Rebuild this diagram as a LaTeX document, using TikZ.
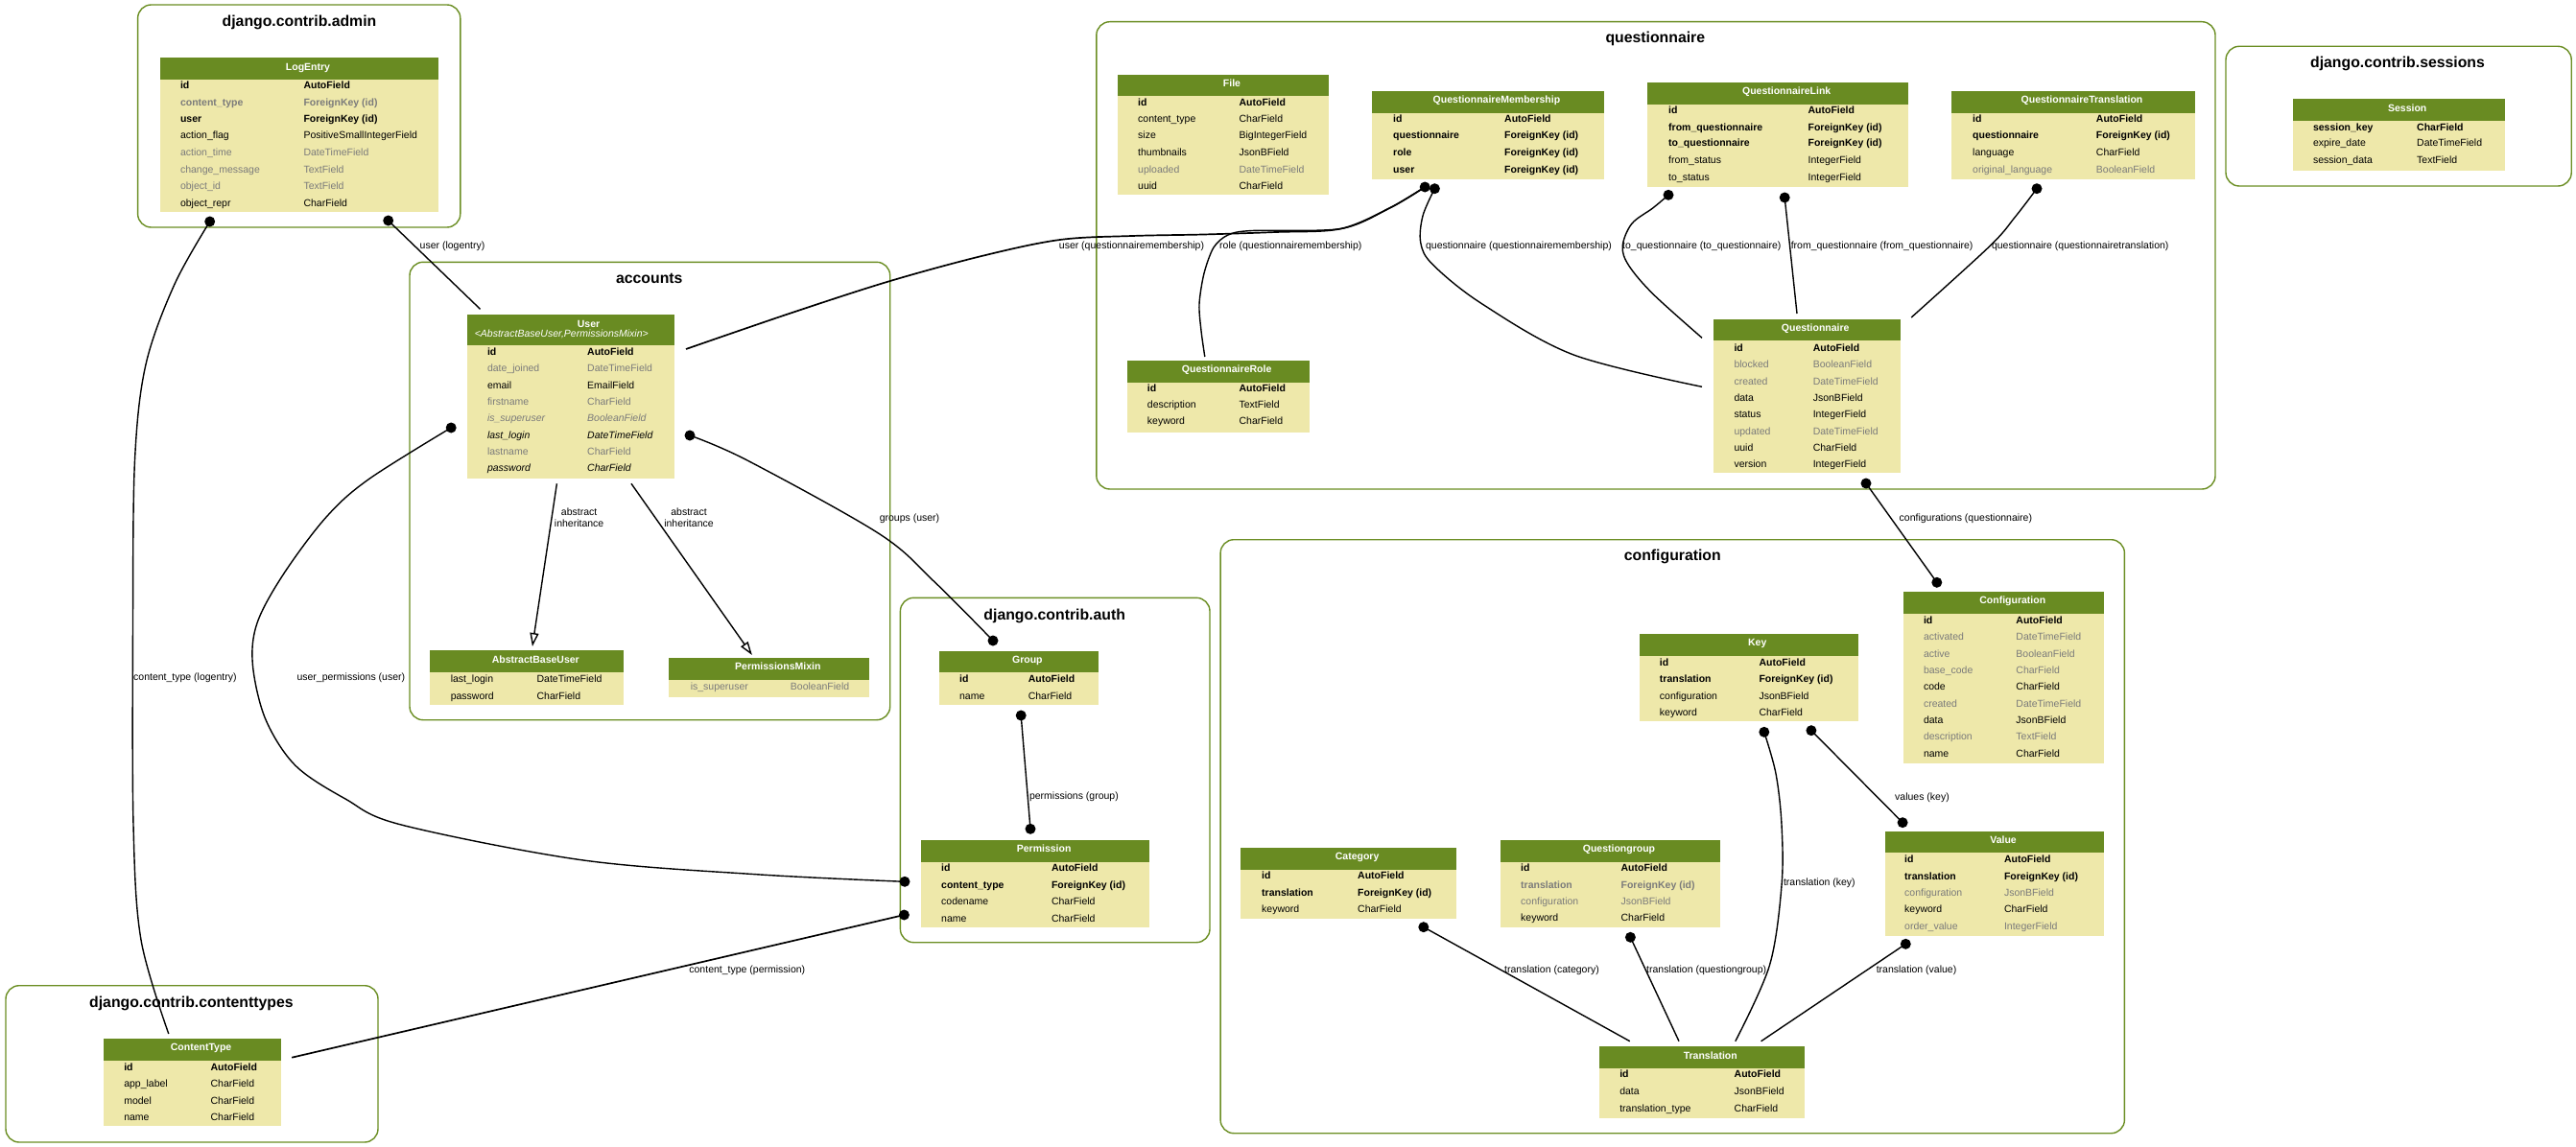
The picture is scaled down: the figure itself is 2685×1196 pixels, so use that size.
\documentclass[tikz,border=0pt]{standalone}
\usepackage{fontspec}
\setmainfont{Liberation Sans}
\usetikzlibrary{arrows.meta}
\definecolor{hdcol}{HTML}{698B22}
\definecolor{bdcol}{HTML}{EEE8AA}
\definecolor{grcol}{HTML}{7B7B7B}
\definecolor{clcol}{HTML}{6B8E23}
\newcounter{rowc}
\tikzset{
  clusbox/.style={draw=clcol, line width=1.4pt, rounded corners=14pt, inner sep=0pt, outer sep=0pt},
  ctitle/.style={font=\fontsize{15.8}{18}\selectfont\bfseries, inner sep=0pt},
  tabbody/.style={fill=bdcol, inner sep=0pt, outer sep=0pt},
  tabhead/.style={fill=hdcol, inner sep=0pt, outer sep=0pt, minimum height=22.7pt},
  htext/.style={text=white, font=\fontsize{10.5}{12}\selectfont\bfseries, inner sep=0pt},
  fn/.style={font=\fontsize{10.5}{12}\selectfont, inner sep=0pt, anchor=base west},
  fb/.style={fn, font=\fontsize{10.5}{12}\selectfont\bfseries},
  fi/.style={fn, font=\fontsize{10.5}{12}\selectfont\itshape},
  fg/.style={fn, text=grcol},
  fgb/.style={fb, text=grcol},
  fgi/.style={fi, text=grcol},
  elab/.style={font=\fontsize{10.5}{12}\selectfont, inner sep=0pt, anchor=base west},
  elabc/.style={font=\fontsize{10.5}{12}\selectfont, inner sep=0pt, anchor=base},
  rel/.style={draw=black, line width=1.4pt},
  relthick/.style={draw=black, line width=1.7pt},
  inh/.style={draw=black, line width=1.4pt, -{Triangle[open, length=14pt, width=9pt]}},
}
\newcommand\clus[8]{%
  \node[clusbox, minimum width={(#4-#2)*1pt}, minimum height={(#5-#3)*1pt}, anchor=north west] (#1) at (#2,#3) {};
  \node[ctitle, anchor=base] (#1-title) at (#7,{#8+5}) {#6};}
\newcommand\tab[6]{%
  \node[tabbody, minimum width={(#4-#2)*1pt}, minimum height={(#5-#3)*1pt}, anchor=north west] (#1) at (#2,#3) {};
  \node[tabhead, minimum width={(#4-#2)*1pt}, anchor=north west] (#1-head) at (#2,#3) {};
  \node[htext, anchor=base] (#1-title) at ({(#2+#4)/2+9},{#3+12.8}) {#6};}
\newcommand\frow[6]{\stepcounter{rowc}%
  \node[#1] (f\arabic{rowc}n) at (#2,{#4+3.7}) {#5};
  \node[#1] (f\arabic{rowc}t) at (#3,{#4+3.7}) {#6};}
\newcommand\dotat[1]{\fill[black] (#1) circle (5.5pt);}
\begin{document}
\begin{tikzpicture}[x=1pt,y=-1pt]
\useasboundingbox (0,0) rectangle (2685,1196);
\fill[white] (0,0) rectangle (2685,1196);

% ---------------- clusters
\clus{cadmin}{143.6}{5}{479.8}{237}{django.contrib.admin}{312}{22.7}
\clus{caccounts}{427}{273.3}{927.7}{750.7}{accounts}{676.8}{290.7}
\clus{cquest}{1142.8}{22.7}{2309}{510}{questionnaire}{1725.3}{39.3}
\clus{csess}{2320}{48.3}{2680.2}{194}{django.contrib.sessions}{2499}{65.7}
\clus{cauth}{938.4}{623.3}{1261}{982.7}{django.contrib.auth}{1099.2}{641}
\clus{cctypes}{6}{1027.7}{394}{1191}{django.contrib.contenttypes}{199.4}{1045.7}
\clus{cconf}{1272.1}{562.7}{2214.4}{1181.7}{configuration}{1743.3}{579.3}

% ---------------- LogEntry
\tab{logentry}{166.6}{60.3}{457.4}{221}{LogEntry}
\frow{fb}{187.8}{316.3}{89.3}{id}{AutoField}
\frow{fgb}{187.8}{316.3}{107.3}{content\_type}{ForeignKey (id)}
\frow{fb}{187.8}{316.3}{124.3}{user}{ForeignKey (id)}
\frow{fn}{187.8}{316.3}{141.3}{action\_flag}{PositiveSmallIntegerField}
\frow{fg}{187.8}{316.3}{159.3}{action\_time}{DateTimeField}
\frow{fg}{187.8}{316.3}{176.3}{change\_message}{TextField}
\frow{fg}{187.8}{316.3}{193.3}{object\_id}{TextField}
\frow{fn}{187.8}{316.3}{211.3}{object\_repr}{CharField}

% ---------------- User
\node[tabbody, minimum width=216.9pt, minimum height=171pt, anchor=north west] (user) at (486.5,328) {};
\node[tabhead, minimum width=216.9pt, minimum height=32pt, anchor=north west] (user-head) at (486.5,328) {};
\node[htext, anchor=base] (user-title) at (613.5,341) {User};
\node[htext, anchor=base, font=\fontsize{10.5}{12}\selectfont\itshape] (user-sub) at (585.3,351.4) {<AbstractBaseUser,PermissionsMixin>};
\frow{fb}{507.8}{612}{366.3}{id}{AutoField}
\frow{fg}{507.8}{612}{383.3}{date\_joined}{DateTimeField}
\frow{fn}{507.8}{612}{401.3}{email}{EmailField}
\frow{fg}{507.8}{612}{418.3}{firstname}{CharField}
\frow{fgi}{507.8}{612}{435.3}{is\_superuser}{BooleanField}
\frow{fi}{507.8}{612}{453.3}{last\_login}{DateTimeField}
\frow{fg}{507.8}{612}{470.3}{lastname}{CharField}
\frow{fi}{507.8}{612}{487.3}{password}{CharField}

% ---------------- AbstractBaseUser / PermissionsMixin
\tab{abu}{448.2}{678.3}{650.4}{735}{AbstractBaseUser}
\frow{fn}{469.6}{559.4}{707.3}{last\_login}{DateTimeField}
\frow{fn}{469.6}{559.4}{725.3}{password}{CharField}
\tab{pmix}{697.3}{686}{906.3}{726.7}{PermissionsMixin}
\frow{fg}{719.6}{823.7}{715.3}{is\_superuser}{BooleanField}

% ---------------- Group / Permission
\tab{group}{978.6}{678.7}{1145.1}{735}{Group}
\frow{fb}{999.9}{1071.6}{707.3}{id}{AutoField}
\frow{fn}{999.9}{1071.6}{725.3}{name}{CharField}
\tab{perm}{960.3}{876}{1198}{966.7}{Permission}
\frow{fb}{981}{1095.8}{905}{id}{AutoField}
\frow{fb}{981}{1095.8}{922.3}{content\_type}{ForeignKey (id)}
\frow{fn}{981}{1095.8}{939.3}{codename}{CharField}
\frow{fn}{981}{1095.8}{957.3}{name}{CharField}

% ---------------- ContentType
\tab{ctype}{107.9}{1083}{293.3}{1174.3}{ContentType}
\frow{fb}{129.1}{219.4}{1112.3}{id}{AutoField}
\frow{fn}{129.1}{219.4}{1129.3}{app\_label}{CharField}
\frow{fn}{129.1}{219.4}{1147.3}{model}{CharField}
\frow{fn}{129.1}{219.4}{1164.3}{name}{CharField}

% ---------------- questionnaire app
\tab{file}{1165}{77.7}{1385}{203.3}{File}
\frow{fb}{1186}{1291.4}{107.3}{id}{AutoField}
\frow{fn}{1186}{1291.4}{124.3}{content\_type}{CharField}
\frow{fn}{1186}{1291.4}{141.3}{size}{BigIntegerField}
\frow{fn}{1186}{1291.4}{159.3}{thumbnails}{JsonBField}
\frow{fg}{1186}{1291.4}{176.3}{uploaded}{DateTimeField}
\frow{fn}{1186}{1291.4}{193.3}{uuid}{CharField}

\tab{qmem}{1430.4}{95}{1671.5}{186.7}{QuestionnaireMembership}
\frow{fb}{1452}{1568}{124.3}{id}{AutoField}
\frow{fb}{1452}{1568}{141.3}{questionnaire}{ForeignKey (id)}
\frow{fb}{1452}{1568}{159.3}{role}{ForeignKey (id)}
\frow{fb}{1452}{1568}{176.3}{user}{ForeignKey (id)}

\tab{qlink}{1717.4}{86}{1989}{195}{QuestionnaireLink}
\frow{fb}{1739}{1884.4}{115.3}{id}{AutoField}
\frow{fb}{1739}{1884.4}{132.3}{from\_questionnaire}{ForeignKey (id)}
\frow{fb}{1739}{1884.4}{149.3}{to\_questionnaire}{ForeignKey (id)}
\frow{fn}{1739}{1884.4}{167.3}{from\_status}{IntegerField}
\frow{fn}{1739}{1884.4}{184.3}{to\_status}{IntegerField}

\tab{qtrans}{2034.3}{95}{2287.7}{186.7}{QuestionnaireTranslation}
\frow{fb}{2056}{2184.7}{124.3}{id}{AutoField}
\frow{fb}{2056}{2184.7}{141.3}{questionnaire}{ForeignKey (id)}
\frow{fn}{2056}{2184.7}{159.3}{language}{CharField}
\frow{fg}{2056}{2184.7}{176.3}{original\_language}{BooleanField}

\tab{qrole}{1174.6}{376}{1364.7}{450.7}{QuestionnaireRole}
\frow{fb}{1195.7}{1291.4}{405}{id}{AutoField}
\frow{fn}{1195.7}{1291.4}{422}{description}{TextField}
\frow{fn}{1195.7}{1291.4}{439}{keyword}{CharField}

\tab{quest}{1785.6}{332.7}{1980.8}{493.3}{Questionnaire}
\frow{fb}{1807.3}{1889.6}{362.3}{id}{AutoField}
\frow{fg}{1807.3}{1889.6}{379.3}{blocked}{BooleanField}
\frow{fg}{1807.3}{1889.6}{397.3}{created}{DateTimeField}
\frow{fn}{1807.3}{1889.6}{414.3}{data}{JsonBField}
\frow{fn}{1807.3}{1889.6}{431.3}{status}{IntegerField}
\frow{fg}{1807.3}{1889.6}{449.3}{updated}{DateTimeField}
\frow{fn}{1807.3}{1889.6}{466.3}{uuid}{CharField}
\frow{fn}{1807.3}{1889.6}{483.3}{version}{IntegerField}

% ---------------- sessions
\tab{session}{2389.6}{103.3}{2610.8}{177.7}{Session}
\frow{fb}{2410.8}{2519}{132.3}{session\_key}{CharField}
\frow{fn}{2410.8}{2519}{149.3}{expire\_date}{DateTimeField}
\frow{fn}{2410.8}{2519}{167.3}{session\_data}{TextField}

% ---------------- configuration app
\tab{config}{1984.2}{617}{2193.3}{795.7}{Configuration}
\frow{fb}{2004.8}{2101.2}{646.3}{id}{AutoField}
\frow{fg}{2004.8}{2101.2}{663.3}{activated}{DateTimeField}
\frow{fg}{2004.8}{2101.2}{681.3}{active}{BooleanField}
\frow{fg}{2004.8}{2101.2}{698.3}{base\_code}{CharField}
\frow{fn}{2004.8}{2101.2}{715.3}{code}{CharField}
\frow{fg}{2004.8}{2101.2}{733.3}{created}{DateTimeField}
\frow{fn}{2004.8}{2101.2}{750.3}{data}{JsonBField}
\frow{fg}{2004.8}{2101.2}{767.3}{description}{TextField}
\frow{fn}{2004.8}{2101.2}{785.3}{name}{CharField}

\tab{key}{1708.5}{661}{1937}{752.3}{Key}
\frow{fb}{1729.7}{1833.3}{690.3}{id}{AutoField}
\frow{fb}{1729.7}{1833.3}{707.3}{translation}{ForeignKey (id)}
\frow{fn}{1729.7}{1833.3}{725.3}{configuration}{JsonBField}
\frow{fn}{1729.7}{1833.3}{742.3}{keyword}{CharField}

\tab{value}{1964.8}{866.7}{2193.3}{975.7}{Value}
\frow{fb}{1985}{2088.8}{895.3}{id}{AutoField}
\frow{fb}{1985}{2088.8}{913.3}{translation}{ForeignKey (id)}
\frow{fg}{1985}{2088.8}{930.3}{configuration}{JsonBField}
\frow{fn}{1985}{2088.8}{947.3}{keyword}{CharField}
\frow{fg}{1985}{2088.8}{965.3}{order\_value}{IntegerField}

\tab{category}{1293.1}{884}{1518.1}{958.3}{Category}
\frow{fb}{1315}{1415}{913}{id}{AutoField}
\frow{fb}{1315}{1415}{930.3}{translation}{ForeignKey (id)}
\frow{fn}{1315}{1415}{947.3}{keyword}{CharField}

\tab{qgroup}{1563.8}{876}{1793.1}{967.3}{Questiongroup}
\frow{fb}{1585}{1689.4}{905}{id}{AutoField}
\frow{fgb}{1585}{1689.4}{922.3}{translation}{ForeignKey (id)}
\frow{fg}{1585}{1689.4}{939.3}{configuration}{JsonBField}
\frow{fn}{1585}{1689.4}{957}{keyword}{CharField}

\tab{transl}{1666.9}{1091.3}{1880.6}{1165.7}{Translation}
\frow{fb}{1688.1}{1807.5}{1120}{id}{AutoField}
\frow{fn}{1688.1}{1807.5}{1137.3}{data}{JsonBField}
\frow{fn}{1688.1}{1807.5}{1155.3}{translation\_type}{CharField}

% ---------------- connector end points
\coordinate (le-u) at (404.7,230);
\coordinate (us-top) at (500.5,322.3);
\coordinate (le-ct) at (218.7,231);
\coordinate (ct-top) at (175.8,1078);
\coordinate (us-l) at (470.2,446);
\coordinate (pm-l1) at (943,919.3);
\coordinate (us-r) at (719,454);
\coordinate (gr-top) at (1035,668);
\coordinate (us-qm) at (715,364);
\coordinate (qm-d1) at (1485.2,195);
\coordinate (qr-top) at (1255.8,372);
\coordinate (qm-d2) at (1495.4,196.7);
\coordinate (qn-l1) at (1774,403.3);
\coordinate (ql-d1) at (1739,203.3);
\coordinate (qn-l2) at (1774,352.3);
\coordinate (ql-d2) at (1860.2,206);
\coordinate (qn-top) at (1873,327);
\coordinate (qt-d) at (2123,196.7);
\coordinate (qn-r) at (1992.2,331);
\coordinate (qn-b) at (1945,504);
\coordinate (cf-top) at (2018.8,607.3);
\coordinate (ky-d2) at (1887.9,761.7);
\coordinate (va-top) at (1983.1,857.7);
\coordinate (gr-b) at (1064.2,746);
\coordinate (pm-top) at (1074,864.3);
\coordinate (ct-r) at (304.2,1102.7);
\coordinate (pm-l2) at (942.4,954);
\coordinate (ca-d) at (1483.8,966.7);
\coordinate (tr-t1) at (1698.8,1085.7);
\coordinate (qg-d) at (1699.4,977.3);
\coordinate (tr-t2) at (1750,1085.7);
\coordinate (ky-d1) at (1838.8,763.3);
\coordinate (tr-t3) at (1808.8,1085.7);
\coordinate (va-d) at (1986.3,984.3);
\coordinate (tr-t4) at (1835.6,1085.7);
\coordinate (us-b1) at (580.4,504.3);
\coordinate (abu-top) at (554.9,674);
\coordinate (us-b2) at (658,504.3);
\coordinate (pmix-top) at (783.9,683);

% ---------------- connectors
\draw[rel] (le-u) -- (us-top);
\draw[rel] plot[smooth, tension=0.55] coordinates {(le-ct) (181.8,296.7) (152,380) (140.5,480) (138.5,650) (139,860) (147,980) (ct-top)};
\draw[rel] plot[smooth, tension=0.55] coordinates {(us-l) (383.9,500) (339.3,540) (294.6,600) (267.9,650) (263.4,693.3) (276.8,750) (308,798.3) (360,833) (418.2,860) (606,896.7) (787.9,911.7) (pm-l1)};
\draw[rel] plot[smooth, tension=0.55] coordinates {(us-r) (778.9,480) (916.6,556.7) (974,606.7) (gr-top)};
\draw[relthick] plot[smooth, tension=0.55] coordinates {(us-qm) (823.5,326.7) (926.8,293.3) (1024.4,266.7) (1104.8,250) (1180,246) (1254,244.5) (1330,242) (1397.6,238.5) (1448.9,216.7) (qm-d1)};
\draw[rel] plot[smooth, tension=0.5] coordinates {(qm-d1) (1448.9,216.7) (1397.6,238.5) (1305,240.5) (1280,245) (1265,258) (1255,285) (1250,317) (1252,345) (qr-top)};
\draw[rel] plot[smooth, tension=0.55] coordinates {(qm-d2) (1483,225) (1480.8,253.3) (1493.5,276) (1544.5,316.7) (1640.2,370) (qn-l1)};
\draw[rel] plot[smooth, tension=0.55] coordinates {(ql-d1) (1723.1,216.7) (1700.8,233.3) (1691.2,256.7) (1697.6,276.7) (1723.1,306.7) (qn-l2)};
\draw[rel] (ql-d2) -- (qn-top);
\draw[rel] plot[smooth, tension=0.55] coordinates {(qt-d) (2100,226.7) (2073.9,256.7) (qn-r)};
\draw[rel] (qn-b) -- (cf-top);
\draw[rel] (ky-d2) -- (va-top);
\draw[rel] (gr-b) -- (pm-top);
\draw[relthick] (ct-r) -- (pm-l2);
\draw[rel] (ca-d) -- (tr-t1);
\draw[rel] (qg-d) -- (tr-t2);
\draw[rel] plot[smooth, tension=0.55] coordinates {(ky-d1) (1851,806.7) (1857,860) (1857,923.3) (1844.4,1006.7) (tr-t3)};
\draw[rel] (va-d) -- (tr-t4);
\draw[inh] (us-b1) -- (abu-top);
\draw[inh] (us-b2) -- (pmix-top);

% ---------------- dots
\dotat{le-u}\dotat{le-ct}\dotat{us-l}\dotat{us-r}\dotat{pm-l1}\dotat{pm-l2}
\dotat{gr-top}\dotat{gr-b}\dotat{pm-top}\dotat{qm-d1}\dotat{qm-d2}
\dotat{ql-d1}\dotat{ql-d2}\dotat{qt-d}\dotat{qn-b}\dotat{cf-top}
\dotat{ky-d1}\dotat{ky-d2}\dotat{va-top}\dotat{va-d}\dotat{ca-d}\dotat{qg-d}

% ---------------- connector labels
\node[elab] (l1) at (437.5,259.4) {user (logentry)};
\node[elab] (l2) at (139,709) {content\_type (logentry)};
\node[elab] (l3) at (309.3,709) {user\_permissions (user)};
\node[elab] (l4) at (916.6,543) {groups (user)};
\node[elabc] (l5a) at (603.6,537) {abstract};
\node[elabc] (l5b) at (603.6,549) {inheritance};
\node[elabc] (l6a) at (718,537) {abstract};
\node[elabc] (l6b) at (718,549) {inheritance};
\node[elab] (l7) at (1103.7,259.4) {user (questionnairemembership)};
\node[elab] (l8) at (1271,259.4) {role (questionnairemembership)};
\node[elab] (l9) at (1485.9,259.4) {questionnaire (questionnairemembership)};
\node[elab] (l10) at (1691,259.4) {to\_questionnaire (to\_questionnaire)};
\node[elab] (l11) at (1866.6,259.4) {from\_questionnaire (from\_questionnaire)};
\node[elab] (l12) at (2075.8,259.4) {questionnaire (questionnairetranslation)};
\node[elab] (l13) at (1979.5,543) {configurations (questionnaire)};
\node[elab] (l14) at (1072.8,833.7) {permissions (group)};
\node[elab] (l15) at (1975,834) {values (key)};
\node[elab] (l16) at (1858.8,923.7) {translation (key)};
\node[elab] (l17) at (1568,1014.4) {translation (category)};
\node[elab] (l18) at (1716,1014.4) {translation (questiongroup)};
\node[elab] (l19) at (1955.6,1014.4) {translation (value)};
\node[elab] (l20) at (718.2,1014.4) {content\_type (permission)};
\end{tikzpicture}
\end{document}
